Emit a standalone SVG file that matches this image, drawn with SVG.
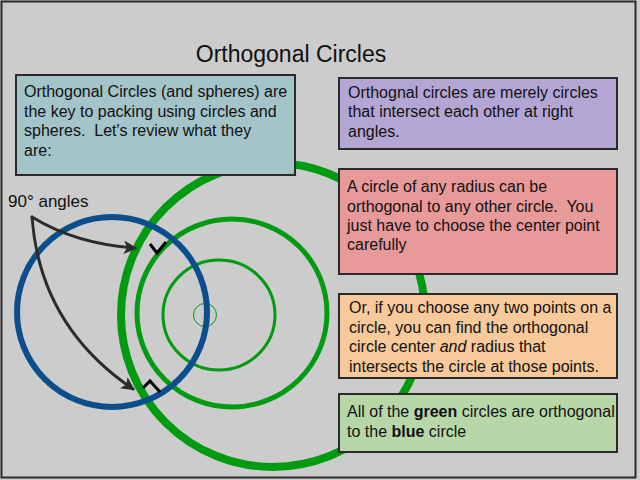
<svg xmlns="http://www.w3.org/2000/svg" width="640" height="480" viewBox="0 0 640 480">
<defs>
<style>
text{font-family:"Liberation Sans",Arial,sans-serif;font-size:16px;fill:#111;white-space:pre;}
.title{font-size:23px;}
.box{stroke:#2b2b2b;stroke-width:2;}
.g{fill:none;stroke:#009b10;}
.arrow{fill:none;stroke:#2b2b2b;stroke-width:3;stroke-linecap:round;}
.tick{fill:none;stroke:#000;stroke-width:3;}
</style>
<marker id="ah" viewBox="0 0 12 12" refX="10" refY="6" markerWidth="4.5" markerHeight="4.5" orient="auto" markerUnits="strokeWidth">
<path d="M0,0 L12,6 L0,12 L3,6 Z" fill="#2b2b2b"/>
</marker>
</defs>
<rect x="0" y="0" width="640" height="480" fill="#cccccc"/>
<rect x="1.5" y="1.5" width="634" height="476" fill="#cccccc" stroke="#2b2b2b" stroke-width="2"/>
<text class="title" x="291" y="62" text-anchor="middle">Orthogonal Circles</text>

<g id="circles">
<circle class="g" cx="273" cy="315" r="152" stroke-width="8"/>
<ellipse class="g" cx="232" cy="313" rx="95" ry="94" stroke-width="5"/>
<ellipse class="g" cx="219" cy="315" rx="56" ry="55" stroke-width="3"/>
<circle class="g" cx="205" cy="315" r="11.5" stroke-width="1"/>
<ellipse cx="112" cy="312" rx="95" ry="95" fill="none" stroke="#0a4f8c" stroke-width="6"/>
</g>

<g id="ticks">
<path class="tick" d="M150,244 L157,253 L166,242"/>
<path class="tick" d="M143,388 L150,381 L160,392"/>
</g>

<g id="connectors">
<path class="arrow" d="M32,217 Q76,244 135,248" marker-end="url(#ah)"/>
<path class="arrow" d="M32,217 Q40,326 133,389" marker-end="url(#ah)"/>
</g>

<g id="label-90">
<text x="8" y="207" style="font-size:17px">90° angles</text>
</g>

<g id="intro">
<rect class="box" x="16" y="75" width="279" height="100" fill="#a3c4c9"/>
<text x="24" y="97">Orthogonal Circles (and spheres) are</text>
<text x="24" y="117">the key to packing using circles and</text>
<text x="24" y="136">spheres.  Let's review what they</text>
<text x="24" y="156">are:</text>
</g>

<g id="definition">
<rect class="box" x="339" y="78" width="278" height="71" fill="#b3a6d4"/>
<text x="348" y="97.5">Orthognal circles are merely circles</text>
<text x="348" y="117">that intersect each other at right</text>
<text x="348" y="136.5">angles.</text>
</g>

<g id="radius">
<rect class="box" x="339" y="169" width="278" height="105" fill="#e89a9a"/>
<text x="347" y="192">A circle of any radius can be</text>
<text x="347" y="211.5">orthogonal to any other circle.  You</text>
<text x="347" y="231">just have to choose the center point</text>
<text x="347" y="250">carefully</text>
</g>

<g id="twopoints">
<rect class="box" x="339" y="294" width="278" height="84" fill="#f8c99a"/>
<text x="349" y="312.5">Or, if you choose any two points on a</text>
<text x="349" y="332.5">circle, you can find the orthogonal</text>
<text x="349" y="352">circle center <tspan font-style="italic">and</tspan> radius that</text>
<text x="349" y="371.5">intersects the circle at those points.</text>
</g>

<g id="summary">
<rect class="box" x="339" y="394" width="278" height="58" fill="#b7d7a8"/>
<text x="347" y="417">All of the <tspan font-weight="bold">green</tspan> circles are orthogonal</text>
<text x="347" y="436.5">to the <tspan font-weight="bold">blue</tspan> circle</text>
</g>
</svg>
